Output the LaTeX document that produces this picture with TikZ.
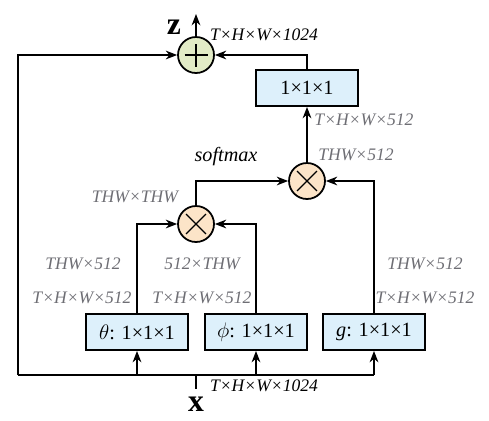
\documentclass[tikz,border=0pt]{standalone}
\usepackage{fontspec}
\setmainfont{Liberation Serif}
\usepackage{amsmath}
\usetikzlibrary{positioning, arrows.meta}

\definecolor{convfill}{HTML}{DDF0FB}
\definecolor{sumfill}{HTML}{E2EBC6}
\definecolor{mulfill}{HTML}{FCE4C8}
\definecolor{dimgray}{HTML}{6E6E74}

\begin{document}
\begin{tikzpicture}[x=0.02cm, y=-0.02cm, >={Stealth[length=6.5pt,width=5pt]},
    line width=0.7pt,
    conv/.style={draw, line width=1.1pt, fill=convfill, minimum width=2.04cm, minimum height=0.72cm, font=\fontsize{11.5}{13}\selectfont},
    sumop/.style={circle, draw, line width=1pt, fill=sumfill, minimum size=0.72cm, path picture={
        \draw[line width=0.7pt] ([xshift=-2.3mm]path picture bounding box.center) -- ([xshift=2.3mm]path picture bounding box.center);
        \draw[line width=0.7pt] ([yshift=-2.3mm]path picture bounding box.center) -- ([yshift=2.3mm]path picture bounding box.center);}},
    mulop/.style={circle, draw, line width=1pt, fill=mulfill, minimum size=0.72cm, path picture={
        \draw[line width=0.7pt] ([shift={(45:2.8mm)}]path picture bounding box.center) -- ([shift={(225:2.8mm)}]path picture bounding box.center);
        \draw[line width=0.7pt] ([shift={(135:2.8mm)}]path picture bounding box.center) -- ([shift={(315:2.8mm)}]path picture bounding box.center);}},
    dimlab/.style={font=\itshape\fontsize{10}{12}\selectfont, text=dimgray, inner sep=1pt},
    mainlab/.style={font=\itshape\fontsize{10}{12}\selectfont, inner sep=1pt},
    iolab/.style={font=\bfseries\fontsize{18}{18}\selectfont, inner sep=1pt}]
    \useasboundingbox (0,0) rectangle (489,420);

    % blocks
    \node[conv] (theta)    at (137,332) {$\theta$: 1×1×1};
    \node[conv] (phi)      at (256,332) {$\phi$: 1×1×1};
    \node[conv] (g)        at (374,332) {\textit{g}: 1×1×1};
    \node[conv] (out conv) at (307,88)  {1×1×1};
    \node[mulop] (mul 1) at (196,224) {};
    \node[mulop] (mul 2) at (307,181) {};
    \node[sumop] (sum)   at (196,55)  {};

    \node[iolab] (x) at (196,404) {x};
    \node[iolab] (z) at (174,27)  {z};
    \coordinate (bus left)  at (18,375);
    \coordinate (bus right) at (374,375);
    \coordinate (x in)      at (196,375);
    \coordinate (x tick)    at (196,389);
    \coordinate (z out)     at (196,14);

    % connectors
    \draw (bus left) -- (bus right);
    \draw (x in) -- (x tick);
    \draw[->] (bus left) |- (sum);
    \foreach \b in {theta, phi, g}
        \draw[->] (\b |- bus left) -- (\b);
    \draw[->] (theta) |- (mul 1);
    \draw[->] (phi) |- (mul 1);
    \draw[->] (mul 1) |- (mul 2);
    \draw[->] (g) |- (mul 2);
    \draw[->] (mul 2) -- (out conv);
    \draw[->] (out conv) |- (sum);
    \draw[->] (sum) -- (z out);

    % sizes
    \node[mainlab] at (264,35)  {T×H×W×1024};
    \node[mainlab] at (264,386) {T×H×W×1024};
    \node[dimlab]  at (364,120) {T×H×W×512};
    \node[dimlab]  at (356,155) {THW×512};
    \node[mainlab, font=\itshape\fontsize{11.5}{13}\selectfont] at (226,157) {softmax};
    \node[dimlab]  at (135,197) {THW×THW};
    \node[dimlab]  at (83,264)  {THW×512};
    \node[dimlab]  at (202,264) {512×THW};
    \node[dimlab]  at (425,264) {THW×512};
    \node[dimlab]  at (82,298)  {T×H×W×512};
    \node[dimlab]  at (202,298) {T×H×W×512};
    \node[dimlab]  at (425,298) {T×H×W×512};
\end{tikzpicture}
\end{document}
